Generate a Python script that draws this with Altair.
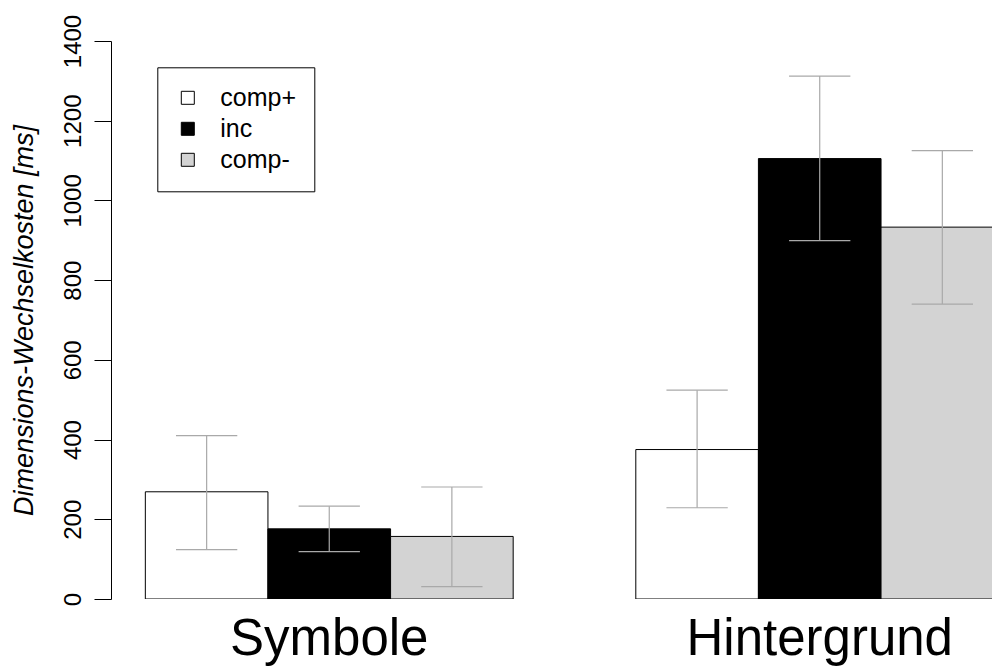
import altair as alt
import pandas as pd

# Groups, conditions and their bar fills
groups = ["Symbole", "Hintergrund"]
conditions = ["comp+", "inc", "comp-"]
fills = ["#ffffff", "#000000", "#d3d3d3"]

# Mean switch costs [ms] and error-bar limits per condition
mean_symbole = [269, 176, 157]
lower_symbole = [124, 119, 31]
upper_symbole = [410, 233, 281]

mean_hintergrund = [375, 1105, 933]
lower_hintergrund = [229, 899, 740]
upper_hintergrund = [524, 1312, 1125]

y_ticks = [0, 200, 400, 600, 800, 1000, 1200, 1400]

FONT = "Liberation Sans"

means = [mean_symbole, mean_hintergrund]
lowers = [lower_symbole, lower_hintergrund]
uppers = [upper_symbole, upper_hintergrund]

# Bar layout in bar-width units: each group of three bars is preceded by a one-unit gap
rows = []
for g, name in enumerate(groups):
    for s, cond in enumerate(conditions):
        left = 1 + 4 * g + s
        mid = left + 0.5
        rows.append({
            "group": name,
            "condition": cond,
            "left": left,
            "right": left + 1,
            "mid": mid,
            "cap_l": mid - 0.25,
            "cap_r": mid + 0.25,
            "mean": means[g][s],
            "lower": lowers[g][s],
            "upper": uppers[g][s],
        })
df = pd.DataFrame(rows)

group_df = pd.DataFrame({
    "group": groups,
    "center": [1 + 4 * g + 1.5 for g in range(len(groups))],
})

x_scale = alt.Scale(domain=[0.72, 7.905], nice=False, zero=False)
y_scale = alt.Scale(domain=[0, 1400], nice=False, zero=False)

y_axis = alt.Axis(
    values=y_ticks,
    format="d",
    title="Dimensions-Wechselkosten [ms]",
    titleFont=FONT,
    titleFontSize=27,
    titleFontStyle="italic",
    titleFontWeight="normal",
    titleColor="black",
    titleAngle=270,
    titleAlign="center",
    titleBaseline="middle",
    titleX=-87,
    titleY=279,
    labelFont=FONT,
    labelFontSize=24,
    labelColor="black",
    labelAngle=270,
    labelAlign="center",
    labelBaseline="alphabetic",
    labelPadding=14,
    labelOverlap=False,
    labelBound=False,
    tickSize=17,
    tickColor="black",
    tickWidth=1,
    domainColor="black",
    domainWidth=1,
    grid=False,
)

bars = alt.Chart(df).mark_rect(stroke="black", strokeWidth=1, clip=True).encode(
    x=alt.X("left:Q", scale=x_scale, axis=None),
    x2="right:Q",
    y=alt.Y("mean:Q", scale=y_scale, axis=y_axis),
    y2=alt.datum(0),
    fill=alt.Fill(
        "condition:N",
        scale=alt.Scale(domain=conditions, range=fills),
        legend=alt.Legend(title=None),
    ),
)

err_color = "#a9a9a9"

err_stem = alt.Chart(df).mark_rule(color=err_color, strokeWidth=1.2, clip=True).encode(
    x=alt.X("mid:Q", scale=x_scale),
    y=alt.Y("lower:Q", scale=y_scale),
    y2="upper:Q",
)

err_low = alt.Chart(df).mark_rule(color=err_color, strokeWidth=1.2, clip=True).encode(
    x=alt.X("cap_l:Q", scale=x_scale),
    x2="cap_r:Q",
    y=alt.Y("lower:Q", scale=y_scale),
)

err_high = alt.Chart(df).mark_rule(color=err_color, strokeWidth=1.2, clip=True).encode(
    x=alt.X("cap_l:Q", scale=x_scale),
    x2="cap_r:Q",
    y=alt.Y("upper:Q", scale=y_scale),
)

group_labels = alt.Chart(group_df).mark_text(
    font=FONT, fontSize=51, color="black", align="center", baseline="alphabetic"
).encode(
    x=alt.X("center:Q", scale=x_scale),
    y=alt.value(614),
    text="group:N",
)

chart = alt.layer(bars, err_stem, err_low, err_high, group_labels).properties(
    width=881,
    height=558,
    autosize=alt.AutoSizeParams(type="none"),
    padding={"left": 111, "top": 41, "right": 0, "bottom": 71},
    background="white",
).configure_view(
    strokeWidth=0
).configure_legend(
    orient="none",
    legendX=46.3,
    legendY=26.3,
    padding=18,
    strokeColor="black",
    strokeWidth=1,
    fillColor="white",
    symbolType="square",
    symbolSize=169,
    symbolStrokeColor="black",
    symbolStrokeWidth=1,
    symbolOpacity=1,
    labelFont=FONT,
    labelFontSize=25,
    labelColor="black",
    labelOffset=20,
    rowPadding=5,
    labelLimit=0,
)

chart.save("out.html", embed_options={"renderer": "svg", "actions": False})
